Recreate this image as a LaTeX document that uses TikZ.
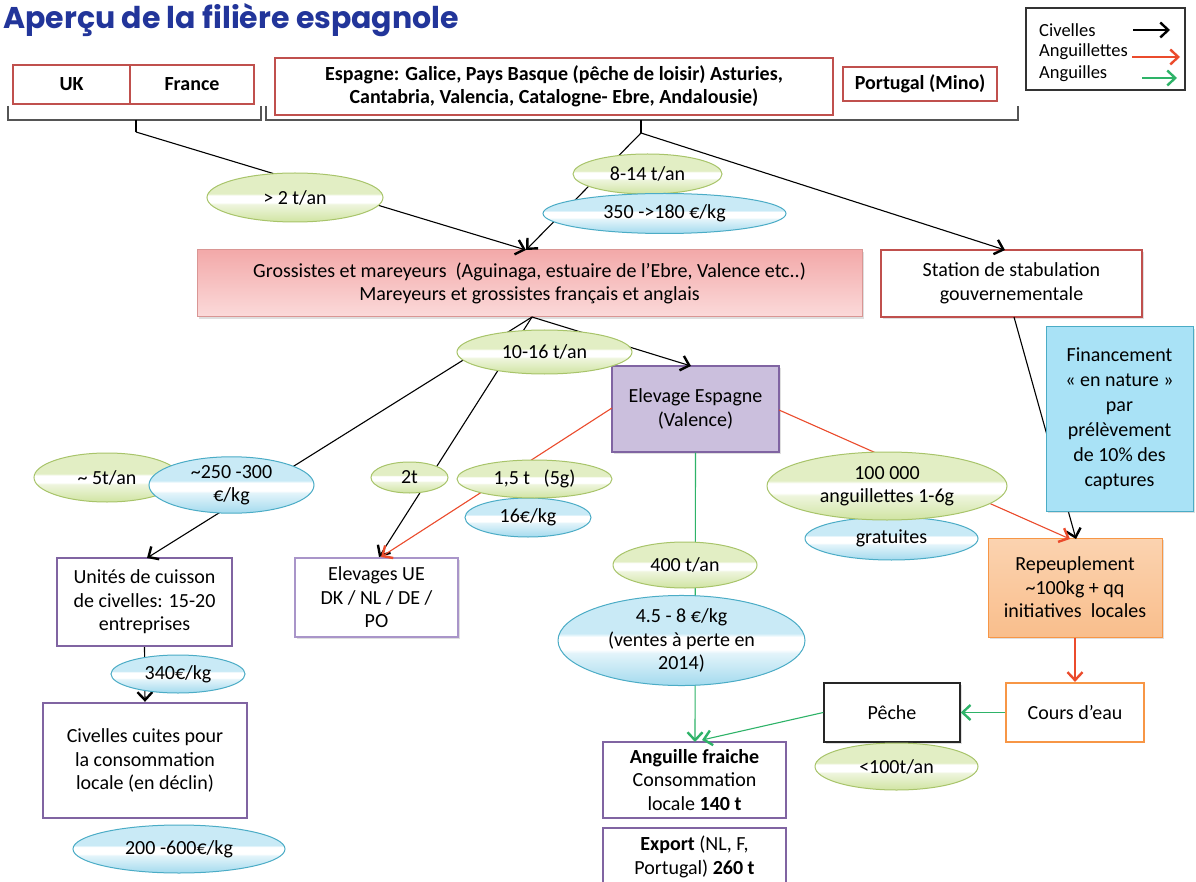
\documentclass[tikz,border=0pt]{standalone}
\usepackage{fontspec}
\setmainfont{Carlito}
\newfontfamily\titlefont{Poppins}
\usetikzlibrary{shapes.geometric,arrows.meta,shadows}
\definecolor{redbd}{HTML}{C0504D}
\definecolor{titleblue}{HTML}{22359A}
\definecolor{gbd}{HTML}{A8C46A}
\definecolor{gtop}{HTML}{E2EEC4}
\definecolor{gbot}{HTML}{D0E4A2}
\definecolor{gmid}{HTML}{EEF5DD}
\definecolor{bbd}{HTML}{4BACC6}
\definecolor{btop}{HTML}{C9EAF6}
\definecolor{bbot}{HTML}{A3DAEE}
\definecolor{bmid}{HTML}{E3F4FA}
\definecolor{purp}{HTML}{8064A2}
\definecolor{purplt}{HTML}{A995C9}
\definecolor{purpfill}{HTML}{CBBFDD}
\definecolor{orng}{HTML}{F79646}
\definecolor{ortop}{HTML}{FBD3B0}
\definecolor{orbot}{HTML}{F9BE8C}
\definecolor{pinktop}{HTML}{F3A9A9}
\definecolor{pinkbot}{HTML}{FBDADA}
\definecolor{pinkbd}{HTML}{D99694}
\definecolor{finfill}{HTML}{A9E2F6}
\definecolor{arred}{HTML}{EB4B2C}
\definecolor{argreen}{HTML}{2EB368}
\definecolor{brk}{HTML}{555555}
\pgfdeclareverticalshading{gshade}{100bp}{color(0bp)=(gbot); color(25bp)=(gbot); color(43bp)=(gmid); color(45bp)=(white); color(52bp)=(white); color(54bp)=(gtop); color(75bp)=(gtop); color(100bp)=(gtop)}
\pgfdeclareverticalshading{bshade}{100bp}{color(0bp)=(bbot); color(25bp)=(bbot); color(43bp)=(bmid); color(45bp)=(white); color(52bp)=(white); color(54bp)=(btop); color(75bp)=(btop); color(100bp)=(btop)}
\newcommand{\fs}{\fontsize{20}{23.5}\selectfont}
\tikzset{
  every node/.style={font=\fs, align=center, inner sep=0pt},
  rbox/.style={draw=redbd, line width=2pt, font=\fs\bfseries},
  pbox/.style={draw=purp, line width=2.4pt, fill=white},
  gell/.style={ellipse, draw=gbd, line width=1pt, shading=gshade},
  bell/.style={ellipse, draw=bbd, line width=1pt, shading=bshade},
  shad/.style={drop shadow={opacity=0.25, shadow xshift=2pt, shadow yshift=-2pt}},
  conn/.style={line width=1.1pt},
  tip/.style={-{Straight Barb[length=8pt,width=15pt,line width=2.4pt]}},
  legtext/.style={anchor=west, font=\fontsize{18.5}{20}\selectfont},
}
\begin{document}
\begin{tikzpicture}[x=1pt,y=-1pt]
\clip (0,0) rectangle (1196,882);
\fill[white] (0,0) rectangle (1196,882);
% title
\node[anchor=west, font=\titlefont\bfseries\fontsize{30}{34}\selectfont, text=titleblue] (title) at (3,20) {Aperçu de la filière espagnole};
% top boxes
\node[rbox, minimum width=117, minimum height=39] (uk) at (71.5,84.5) {UK};
\node[rbox, minimum width=124, minimum height=39] (fr) at (192,84.5) {France};
\node[rbox, minimum width=558, minimum height=57] (esp) at (554,86.5) {Espagne: Galice, Pays Basque (pêche de loisir) Asturies,\\Cantabria, Valencia, Catalogne- Ebre, Andalousie)};
\node[rbox, minimum width=154, minimum height=34] (por) at (920,84) {Portugal (Mino)};
% legend
\node[draw=black!80, line width=1.2pt, minimum width=159, minimum height=82] (leg) at (1105.5,49) {};
\node[legtext] (l1) at (1039,30) {Civelles};
\node[legtext] (l2) at (1039,52) {Anguillettes};
\node[legtext] (l3) at (1039,74) {Anguilles};
\coordinate (l1a) at (1133,30); \coordinate (l1b) at (1170,30);
\coordinate (l2a) at (1132,57); \coordinate (l2b) at (1180,57);
\coordinate (l3a) at (1142,78); \coordinate (l3b) at (1177,78);
\draw[conn, tip] (l1a) -- (l1b);
\draw[conn, tip, arred] (l2a) -- (l2b);
\draw[conn, tip, argreen] (l3a) -- (l3b);
% brackets
\draw[brk, line width=1.2pt] (8,106) -- (8,120) -- (261,120) -- (261,106);
\draw[brk, line width=1.2pt] (266,106) -- (266,120) -- (1018,120) -- (1018,106);
\coordinate (s1) at (136,120); \coordinate (j1) at (136,132);
\coordinate (s2) at (641,120); \coordinate (j2) at (641,133);
% boxes middle
\node[draw=pinkbd, line width=1pt, top color=pinktop, bottom color=pinkbot, shad, minimum width=665, minimum height=67] (gros) at (529.5,283.5) {Grossistes et mareyeurs\ \ (Aguinaga, estuaire de l’Ebre, Valence etc..)\\Mareyeurs et grossistes français et anglais};
\node[draw=redbd, line width=1.2pt, fill=white, shad, minimum width=261, minimum height=67] (stat) at (1011.5,283.5) {Station de stabulation\\gouvernementale};
\node[draw=purp, line width=1.2pt, fill=purpfill, shad, minimum width=167, minimum height=86] (elev) at (695.5,409) {Elevage Espagne\\(Valence)};
\coordinate (gA) at (526,250);
\coordinate (sA) at (1005,250);
\coordinate (gB) at (532,317);
\coordinate (eT) at (691,366);
\coordinate (eL) at (612,408);
\coordinate (eR) at (779,410);
\coordinate (stB) at (1014,317);
% lower boxes
\node[pbox, minimum width=175, minimum height=88] (unit) at (144.5,602) {Unités de cuisson\\de civelles: 15-20\\entreprises};
\node[draw=purplt, line width=1.5pt, fill=white, shad, minimum width=163, minimum height=79] (ue) at (376.5,597.5) {Elevages UE\\DK / NL / DE /\\PO};
\node[pbox, minimum width=204, minimum height=115] (cuit) at (145,760.5) {Civelles cuites pour\\la consommation\\locale (en déclin)};
\node[draw=orng, line width=1pt, top color=ortop, bottom color=orbot, shad, minimum width=174, minimum height=99] (rep) at (1075,587.5) {Repeuplement\\\textasciitilde100kg + qq\\initiatives\ \ locales};
\node[draw=black!85, line width=1.5pt, fill=white, shad, minimum width=136, minimum height=59] (pech) at (892,712.5) {Pêche};
\node[draw=orng, line width=2.2pt, fill=white, minimum width=138, minimum height=59] (cours) at (1075,712.5) {Cours d’eau};
\node[pbox, minimum width=183, minimum height=76] (ang) at (694.5,780) {\textbf{Anguille fraiche}\\Consommation\\locale \textbf{140 t}};
\node[pbox, minimum width=183, minimum height=58] (exp) at (694.5,857) {\textbf{Export} (NL, F,\\Portugal) \textbf{260 t}};
\coordinate (rT1) at (1070,539);
\coordinate (rT2) at (1076,539);
\coordinate (aT1) at (695,742);
\coordinate (aT2) at (702,740);
\coordinate (uT) at (147,558);
\coordinate (ueT1) at (379,557);
\coordinate (ueT2) at (381,557);
% connectors (black)
\draw[conn] (s1) -- (j1);
\draw[conn, tip] (j1) -- (gA);
\draw[conn] (s2) -- (j2);
\draw[conn, tip] (j2) -- (gA);
\draw[conn, tip] (j2) -- (sA);
\draw[conn, tip] (gB) -- (eT);
\draw[conn, tip] (gB) -- (uT);
\draw[conn, tip] (gB) -- (ueT1);
\draw[conn, tip] (stB) -- (rT2);
\draw[conn, tip] (unit.south) -- (cuit.north);
% red
\draw[conn, arred, tip] (eL) -- (ueT2);
\draw[conn, arred, tip] (eR) -- (rT1);
\draw[conn, arred, tip] (rep.south) -- (cours.north);
% green
\draw[conn, argreen, tip] (elev.south) -- (aT1);
\draw[conn, argreen, tip] (pech.west) -- (aT2);
\draw[conn, argreen, tip] (cours.west) -- (pech.east);
% financement box (over the black line)
\node[draw=bbd, line width=1pt, fill=finfill, shad, minimum width=147, minimum height=184, font=\fontsize{20}{25}\selectfont] (fin) at (1119.5,419) {Financement\\« en nature »\\par\\prélèvement\\de 10\% des\\captures};
% ellipses
\node[gell, minimum width=176, minimum height=49] (e2t) at (295,197.5) {> 2 t/an};
\node[gell, minimum width=149, minimum height=40] (e814) at (647.5,174) {8-14 t/an};
\node[bell, minimum width=243, minimum height=40] (e350) at (664.5,213.5) {350 ->180 €/kg};
\node[gell, minimum width=175, minimum height=44] (e1016) at (544.5,352) {10-16 t/an};
\node[gell, minimum width=146, minimum height=49] (e5t) at (107,477.5) {\textasciitilde{} 5t/an};
\node[bell, minimum width=165, minimum height=54] (e250) at (231.5,485) {\textasciitilde250 -300\\€/kg};
\node[gell, minimum width=77, minimum height=31] (e2) at (409.5,477.5) {2t};
\node[bell, minimum width=126, minimum height=39] (e16) at (528,517.5) {16€/kg};
\node[gell, minimum width=155, minimum height=38] (e15) at (534.5,479) {1,5 t\ \ \ (5g)};
\node[bell, minimum width=173, minimum height=43] (egr) at (891.5,538.5) {gratuites};
\node[gell, minimum width=240, minimum height=68] (e100) at (887,486) {100 000\\anguillettes 1-6g};
\node[gell, minimum width=144, minimum height=46] (e400) at (685,565) {400 t/an};
\node[bell, minimum width=247, minimum height=85] (e45) at (681.5,640.5) {4.5 - 8 €/kg\\(ventes à perte en\\2014)};
\node[bell, minimum width=134, minimum height=38] (e340) at (178,674) {340€/kg};
\node[bell, minimum width=212, minimum height=48] (e200) at (179,849) {200 -600€/kg};
\node[gell, minimum width=163, minimum height=47] (e100t) at (896.5,766.5) {<100t/an};
\end{tikzpicture}
\end{document}
